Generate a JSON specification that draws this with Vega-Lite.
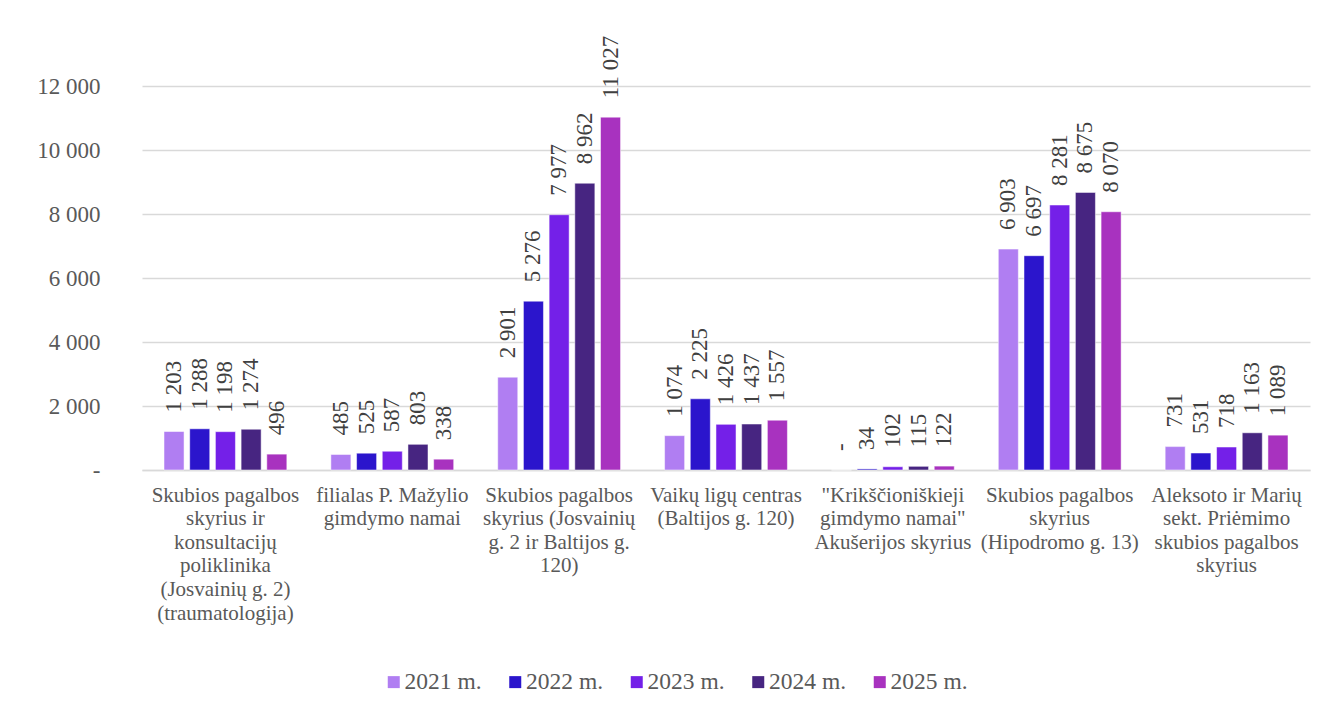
{
  "$schema": "https://vega.github.io/schema/vega-lite/v6.json",
  "autosize": {"type": "none"},
  "padding": {"left": 142, "top": 86, "right": 20, "bottom": 245},
  "width": 1168,
  "height": 384,
  "background": "white",
  "config": {
    "view": {"stroke": null},
    "font": "Liberation Serif",
    "axis": {"labelFont": "Liberation Serif", "labelColor": "#595959", "ticks": false, "title": null},
    "legend": {"labelFont": "Liberation Serif", "labelColor": "#595959"}
  },
  "data": {
    "values": [
      {"category": "Skubios pagalbos\nskyrius ir\nkonsultacijų\npoliklinika\n(Josvainių g. 2)\n(traumatologija)", "year": "2021 m.", "value": 1203},
      {"category": "Skubios pagalbos\nskyrius ir\nkonsultacijų\npoliklinika\n(Josvainių g. 2)\n(traumatologija)", "year": "2022 m.", "value": 1288},
      {"category": "Skubios pagalbos\nskyrius ir\nkonsultacijų\npoliklinika\n(Josvainių g. 2)\n(traumatologija)", "year": "2023 m.", "value": 1198},
      {"category": "Skubios pagalbos\nskyrius ir\nkonsultacijų\npoliklinika\n(Josvainių g. 2)\n(traumatologija)", "year": "2024 m.", "value": 1274},
      {"category": "Skubios pagalbos\nskyrius ir\nkonsultacijų\npoliklinika\n(Josvainių g. 2)\n(traumatologija)", "year": "2025 m.", "value": 496},
      {"category": "filialas P. Mažylio\ngimdymo namai", "year": "2021 m.", "value": 485},
      {"category": "filialas P. Mažylio\ngimdymo namai", "year": "2022 m.", "value": 525},
      {"category": "filialas P. Mažylio\ngimdymo namai", "year": "2023 m.", "value": 587},
      {"category": "filialas P. Mažylio\ngimdymo namai", "year": "2024 m.", "value": 803},
      {"category": "filialas P. Mažylio\ngimdymo namai", "year": "2025 m.", "value": 338},
      {"category": "Skubios pagalbos\nskyrius (Josvainių\ng. 2 ir Baltijos g.\n120)", "year": "2021 m.", "value": 2901},
      {"category": "Skubios pagalbos\nskyrius (Josvainių\ng. 2 ir Baltijos g.\n120)", "year": "2022 m.", "value": 5276},
      {"category": "Skubios pagalbos\nskyrius (Josvainių\ng. 2 ir Baltijos g.\n120)", "year": "2023 m.", "value": 7977},
      {"category": "Skubios pagalbos\nskyrius (Josvainių\ng. 2 ir Baltijos g.\n120)", "year": "2024 m.", "value": 8962},
      {"category": "Skubios pagalbos\nskyrius (Josvainių\ng. 2 ir Baltijos g.\n120)", "year": "2025 m.", "value": 11027},
      {"category": "Vaikų ligų centras\n(Baltijos g. 120)", "year": "2021 m.", "value": 1074},
      {"category": "Vaikų ligų centras\n(Baltijos g. 120)", "year": "2022 m.", "value": 2225},
      {"category": "Vaikų ligų centras\n(Baltijos g. 120)", "year": "2023 m.", "value": 1426},
      {"category": "Vaikų ligų centras\n(Baltijos g. 120)", "year": "2024 m.", "value": 1437},
      {"category": "Vaikų ligų centras\n(Baltijos g. 120)", "year": "2025 m.", "value": 1557},
      {"category": "\"Krikščioniškieji\ngimdymo namai\"\nAkušerijos skyrius", "year": "2021 m.", "value": 0},
      {"category": "\"Krikščioniškieji\ngimdymo namai\"\nAkušerijos skyrius", "year": "2022 m.", "value": 34},
      {"category": "\"Krikščioniškieji\ngimdymo namai\"\nAkušerijos skyrius", "year": "2023 m.", "value": 102},
      {"category": "\"Krikščioniškieji\ngimdymo namai\"\nAkušerijos skyrius", "year": "2024 m.", "value": 115},
      {"category": "\"Krikščioniškieji\ngimdymo namai\"\nAkušerijos skyrius", "year": "2025 m.", "value": 122},
      {"category": "Skubios pagalbos\nskyrius\n(Hipodromo g. 13)", "year": "2021 m.", "value": 6903},
      {"category": "Skubios pagalbos\nskyrius\n(Hipodromo g. 13)", "year": "2022 m.", "value": 6697},
      {"category": "Skubios pagalbos\nskyrius\n(Hipodromo g. 13)", "year": "2023 m.", "value": 8281},
      {"category": "Skubios pagalbos\nskyrius\n(Hipodromo g. 13)", "year": "2024 m.", "value": 8675},
      {"category": "Skubios pagalbos\nskyrius\n(Hipodromo g. 13)", "year": "2025 m.", "value": 8070},
      {"category": "Aleksoto ir Marių\nsekt. Priėmimo\nskubios pagalbos\nskyrius", "year": "2021 m.", "value": 731},
      {"category": "Aleksoto ir Marių\nsekt. Priėmimo\nskubios pagalbos\nskyrius", "year": "2022 m.", "value": 531},
      {"category": "Aleksoto ir Marių\nsekt. Priėmimo\nskubios pagalbos\nskyrius", "year": "2023 m.", "value": 718},
      {"category": "Aleksoto ir Marių\nsekt. Priėmimo\nskubios pagalbos\nskyrius", "year": "2024 m.", "value": 1163},
      {"category": "Aleksoto ir Marių\nsekt. Priėmimo\nskubios pagalbos\nskyrius", "year": "2025 m.", "value": 1089}
    ]
  },
  "encoding": {
    "x": {
      "field": "category", "type": "nominal", "sort": null,
      "scale": {"paddingInner": 0.23, "paddingOuter": 0.115},
      "axis": {
        "labelAngle": 0, "labelFontSize": 21, "labelLineHeight": 23.6, "labelLimit": 0,
        "labelBaseline": "top", "labelPadding": 14, "labelAlign": "center",
        "labelExpr": "split(datum.value, '\\n')",
        "domain": true, "domainColor": "#d9d9d9", "domainWidth": 1.5, "grid": false
      }
    },
    "xOffset": {
      "field": "year", "type": "nominal", "sort": ["2021 m.", "2022 m.", "2023 m.", "2024 m.", "2025 m."],
      "scale": {"paddingInner": 0.22, "paddingOuter": 0.11}
    },
    "y": {
      "field": "value", "type": "quantitative",
      "scale": {"domain": [0, 12000], "nice": false},
      "axis": {
        "values": [0, 2000, 4000, 6000, 8000, 10000, 12000],
        "labelFontSize": 23, "labelPadding": 42, "domain": false,
        "gridColor": "#d9d9d9", "gridWidth": 1.5,
        "labelExpr": "datum.value == 0 ? '-' : replace(format(datum.value, ','), ',', ' ')"
      }
    }
  },
  "layer": [
    {
      "mark": {"type": "bar", "stroke": "white", "strokeWidth": 1, "strokeOpacity": 0.5},
      "encoding": {
        "color": {
          "field": "year", "type": "nominal",
          "scale": {
            "domain": ["2021 m.", "2022 m.", "2023 m.", "2024 m.", "2025 m."],
            "range": ["#b07ef2", "#2b15cc", "#7420e8", "#472581", "#a832bf"]
          },
          "legend": {
            "title": null, "orient": "none", "direction": "horizontal",
            "legendX": 240, "legendY": 584,
            "symbolType": "square", "symbolSize": 144, "symbolStrokeWidth": 0,
            "labelFontSize": 23.5, "labelOffset": -1, "columnPadding": 21.5
          }
        }
      }
    },
    {
      "transform": [
        {"calculate": "datum.value == 0 ? '-' : replace(format(datum.value, ','), ',', ' ')", "as": "label"}
      ],
      "mark": {
        "type": "text", "angle": -90, "align": "left", "baseline": "middle",
        "dx": 19, "fontSize": 23, "color": "#404040", "font": "Liberation Serif"
      },
      "encoding": {"text": {"field": "label"}}
    }
  ]
}
